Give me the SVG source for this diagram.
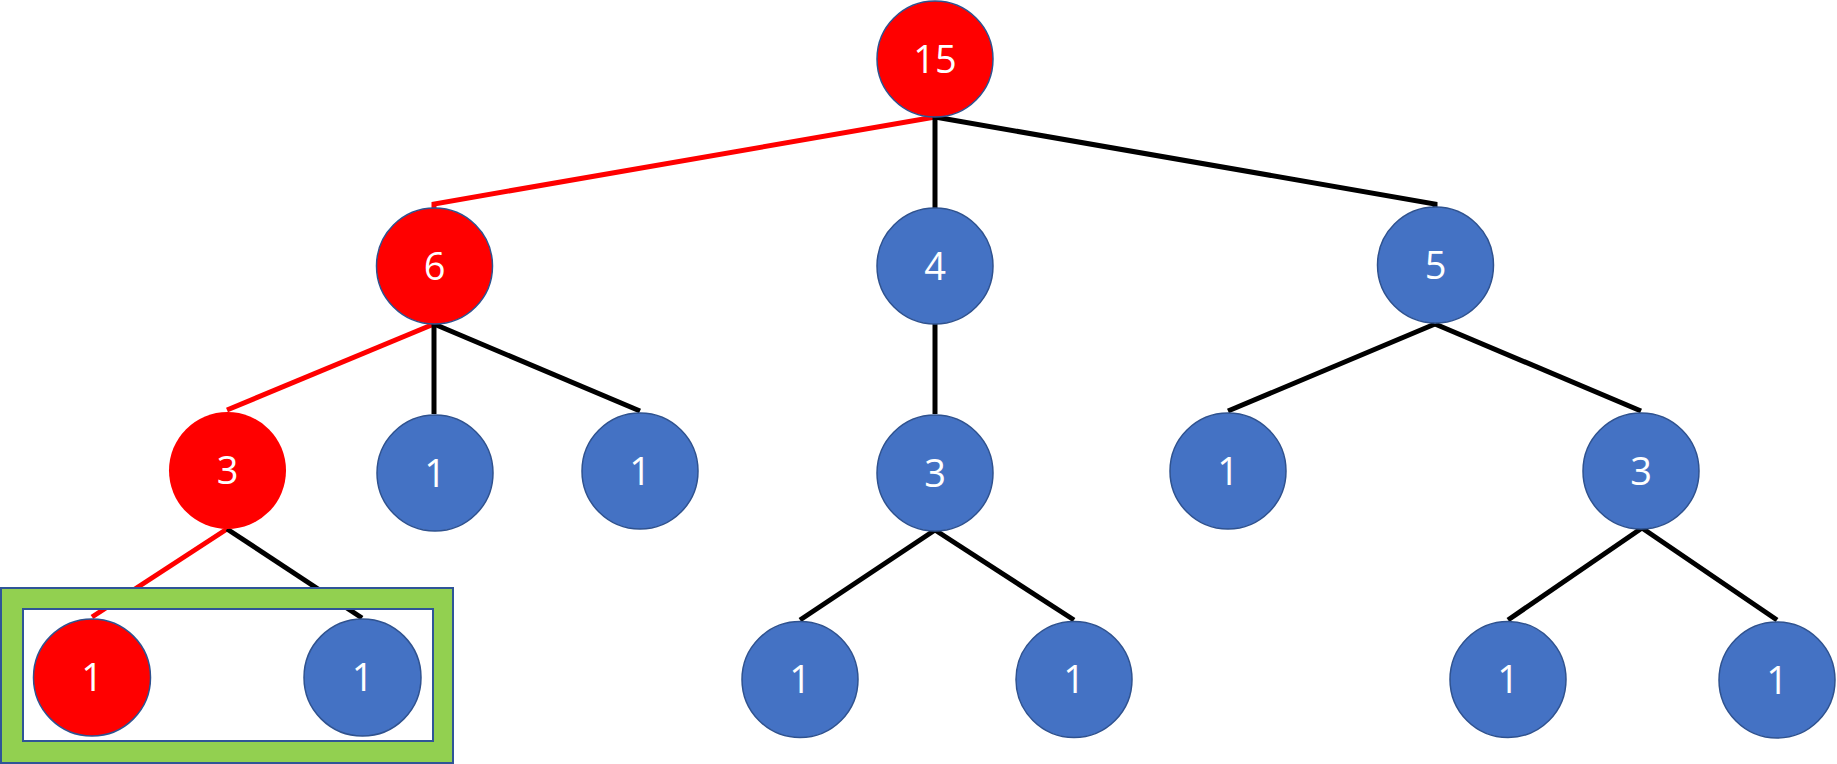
<svg xmlns="http://www.w3.org/2000/svg" width="1837" height="764" viewBox="0 0 1837 764">
<style>
.n circle{stroke:#2F528F;stroke-width:1.5}
.b circle{fill:#4472C4}
.r circle{fill:#FF0000}
.n text{fill:#fff;font-family:"Open Sans","Noto Sans","Liberation Sans",sans-serif;font-size:38px;text-anchor:middle}
.e{fill:none;stroke-width:5;stroke-linejoin:miter}
.k{stroke:#000}
.red{stroke:#FF0000}
</style>
<rect width="1837" height="764" fill="#fff"/>
<g id="connectors">
<path class="e red" d="M935,117 L434,204 L434,209"/>
<path class="e k" d="M935,117 L935,208"/>
<path class="e k" d="M935,117 L1435,204 L1435,208"/>
<path class="e red" d="M434,324 L227,410"/>
<path class="e k" d="M434,324 L434,414"/>
<path class="e k" d="M434,324 L640,411"/>
<path class="e red" d="M227,529 L92,617"/>
<path class="e k" d="M227,529 L362,618"/>
<path class="e k" d="M935,324 L935,414"/>
<path class="e k" d="M935,530 L800,620"/>
<path class="e k" d="M935,530 L1074,620"/>
<path class="e k" d="M1435,324 L1228,411"/>
<path class="e k" d="M1435,324 L1641,411"/>
<path class="e k" d="M1642,528 L1508,620"/>
<path class="e k" d="M1642,528 L1777,620"/>
</g>
<g id="frame">
<path d="M1,588 H453 V763 H1 Z M23,609 V741 H433 V609 Z" fill="#92D050" fill-rule="evenodd" stroke="#2F5597" stroke-width="2"/>
</g>
<g id="n15" class="n r"><circle cx="935" cy="59" r="58"/><text x="935" y="73">15</text></g>
<g id="n6" class="n r"><circle cx="434.5" cy="266" r="58"/><text x="434.5" y="280">6</text></g>
<g id="n4" class="n b"><circle cx="935" cy="266" r="58"/><text x="935" y="280">4</text></g>
<g id="n5" class="n b"><circle cx="1435.5" cy="265" r="58"/><text x="1435.5" y="279">5</text></g>
<g id="n3a" class="n r"><circle cx="227.5" cy="470.5" r="58.5" style="stroke:none"/><text x="227.5" y="484">3</text></g>
<g id="n1a" class="n b"><circle cx="435" cy="473" r="58"/><text x="435" y="487">1</text></g>
<g id="n1b" class="n b"><circle cx="640" cy="471" r="58"/><text x="640" y="485">1</text></g>
<g id="n3b" class="n b"><circle cx="935" cy="473" r="58"/><text x="935" y="487">3</text></g>
<g id="n1c" class="n b"><circle cx="1228" cy="471" r="58"/><text x="1228" y="485">1</text></g>
<g id="n3c" class="n b"><circle cx="1641" cy="471" r="58"/><text x="1641" y="485">3</text></g>
<g id="n1d" class="n r"><circle cx="92" cy="677.5" r="58.5"/><text x="92" y="691">1</text></g>
<g id="n1e" class="n b"><circle cx="362.5" cy="677.5" r="58.5"/><text x="362.5" y="691">1</text></g>
<g id="n1f" class="n b"><circle cx="800" cy="679.5" r="58"/><text x="800" y="693">1</text></g>
<g id="n1g" class="n b"><circle cx="1074" cy="679.5" r="58"/><text x="1074" y="693">1</text></g>
<g id="n1h" class="n b"><circle cx="1508" cy="679.5" r="58"/><text x="1508" y="693">1</text></g>
<g id="n1i" class="n b"><circle cx="1777" cy="680" r="58"/><text x="1777" y="694">1</text></g>
</svg>
